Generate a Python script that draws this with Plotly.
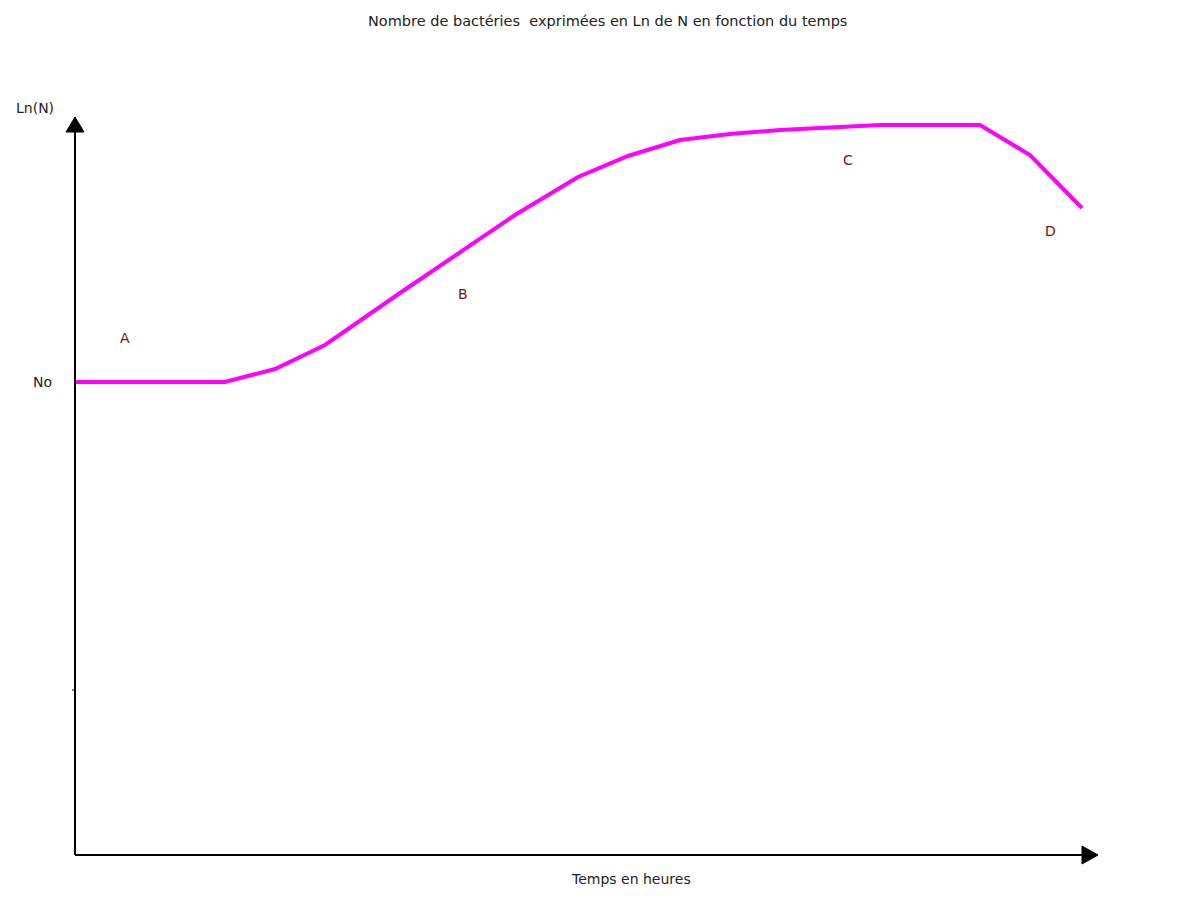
import plotly.graph_objects as go

# Time (arbitrary hour units) and Ln(N) values (arbitrary units)
temps = [0, 15, 20, 25, 32.5, 38.5, 44, 50.3, 55.3, 60.5, 65.5, 70.5, 75.5, 80.5, 90.5, 95.5, 100.7]
ln_n = [47.3, 47.3, 48.6, 51.0, 56.2, 60.3, 64.0, 67.8, 69.9, 71.5, 72.1, 72.5, 72.8, 73.0, 73.0, 70.0, 64.7]

phase_labels = ["A", "B", "C", "D"]
phase_x = [5.0, 38.8, 77.3, 97.5]
phase_y = [51.7, 56.1, 69.5, 62.4]

no_value = 47.3
x_axis_end = 102.3
y_axis_end = 73.8

FONT = "DejaVu Sans, Verdana, sans-serif"

fig = go.Figure()
fig.add_trace(go.Scatter(x=temps, y=ln_n, mode="lines",
                         line=dict(color="#ff00ff", width=4), hoverinfo="skip"))

shapes = [
    dict(type="line", x0=0, y0=0, x1=x_axis_end - 1.2, y1=0, line=dict(color="black", width=2)),
    dict(type="line", x0=0, y0=0, x1=0, y1=y_axis_end - 1.2, line=dict(color="black", width=2)),
    dict(type="path", path=f"M {x_axis_end - 1.6},-0.9 L {x_axis_end},0 L {x_axis_end - 1.6},0.9 Z",
         fillcolor="black", line=dict(color="black", width=1)),
    dict(type="path", path=f"M -0.9,{y_axis_end - 1.5} L 0,{y_axis_end} L 0.9,{y_axis_end - 1.5} Z",
         fillcolor="black", line=dict(color="black", width=1)),
    dict(type="line", x0=-0.3, y0=16.5, x1=0, y1=16.5, line=dict(color="black", width=1)),
]

annotations = [
    dict(x=-4.0, y=74.7, text="Ln(N)", showarrow=False, font=dict(size=14, color="#222", family=FONT)),
    dict(x=-3.3, y=no_value, text="No", showarrow=False, font=dict(size=14, color="#222", family=FONT)),
    dict(x=55.6, y=-2.4, text="Temps en heures", showarrow=False, font=dict(size=14, color="#222", family=FONT)),
]
for lab, px, py in zip(phase_labels, phase_x, phase_y):
    annotations.append(dict(x=px, y=py, text=lab, showarrow=False,
                            font=dict(size=14, color="#7a1010", family=FONT)))

fig.update_layout(
    width=1200, height=902,
    margin=dict(l=0, r=0, t=0, b=0),
    paper_bgcolor="white", plot_bgcolor="white",
    showlegend=False,
    xaxis=dict(range=[-7.5, 112.5], visible=False, fixedrange=True),
    yaxis=dict(range=[-4.7, 85.5], visible=False, fixedrange=True),
    shapes=shapes,
    annotations=annotations + [
        dict(xref="paper", yref="paper", x=607 / 1200, y=1 - 21 / 902, xanchor="center", yanchor="middle",
             text="Nombre de bactéries  exprimées en Ln de N en fonction du temps",
             showarrow=False, font=dict(size=14.5, color="#222", family=FONT))
    ],
)

fig.write_html("out.html")
